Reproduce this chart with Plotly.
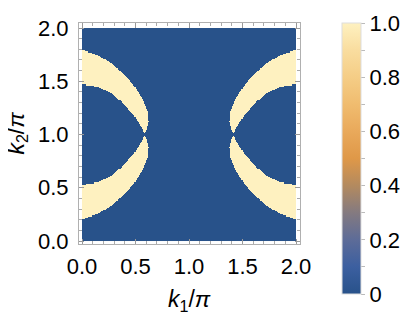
import numpy as np
import plotly.graph_objects as go

# upper-left crescent outline (k1/pi, k2/pi)
outer_k1 = [-0.02, 0.0, 0.15, 0.274, 0.399, 0.493, 0.570, 0.617, 0.626, 0.601, 0.579]
outer_k2 = [1.795, 1.793, 1.746, 1.669, 1.559, 1.449, 1.324, 1.214, 1.120, 1.026, 1.0]
inner_k1 = [0.570, 0.493, 0.399, 0.274, 0.15, 0.0, -0.02]
inner_k2 = [1.042, 1.167, 1.277, 1.387, 1.449, 1.471, 1.471]

ticks = [0.0, 0.5, 1.0, 1.5, 2.0]
tick_text = ["0.0", "0.5", "1.0", "1.5", "2.0"]
cb_vals = [0.0, 0.1, 0.2, 0.3, 0.4, 0.5, 0.6, 0.7, 0.8, 0.9, 1.0]
cb_text = ["0", "", "0.2", "", "0.4", "", "0.6", "", "0.8", "", "1.0"]

colors = [[0.0, "#28528a"], [0.1, "#3c5fa0"], [0.2, "#5d6c98"], [0.3, "#847a80"],
          [0.4, "#b38a5f"], [0.5, "#df9848"], [0.6, "#e9a95b"], [0.7, "#f0bc6f"],
          [0.8, "#f5cd86"], [0.9, "#f9dd9f"], [1.0, "#fef1c0"]]

FONT = "Liberation Sans, Arial"

# the page body has an 8px margin, so the figure is drawn 8px smaller
W, H = 407, 326


def inside(px, py, vx, vy):
    vx = np.asarray(vx)
    vy = np.asarray(vy)
    res = np.zeros(px.shape, dtype=bool)
    n = len(vx)
    j = n - 1
    for i in range(n):
        cond = ((vy[i] > py) != (vy[j] > py)) & \
            (px < (vx[j] - vx[i]) * (py - vy[i]) / (vy[j] - vy[i] + 1e-12) + vx[i])
        res ^= cond
        j = i
    return res


N = 200
d = 2.0 / N
xs = np.arange(N) * d + d / 2
X, Y = np.meshgrid(xs, xs)
poly_x = outer_k1 + inner_k1
poly_y = outer_k2 + inner_k2

# fold the grid onto the upper-left quarter (the pattern is mirror symmetric)
FX = np.where(X > 1, 2 - X, X)
FY = np.where(Y < 1, 2 - Y, Y)
Z = inside(FX, FY, poly_x, poly_y).astype(float)

fig = go.Figure(go.Heatmap(
    x=xs, y=xs, z=Z, zmin=0, zmax=1, colorscale=colors,
    colorbar=dict(
        x=(342 - 79) / 221, xanchor="left",
        y=(244 - 158.5) / 221, yanchor="middle",
        lenmode="pixels", len=271, thickness=19, xpad=0, ypad=0,
        outlinewidth=1, outlinecolor="#dddddd",
        tickmode="array", tickvals=cb_vals, ticktext=cb_text,
        ticks="outside", ticklen=4, tickcolor="#bbbbbb",
        tickfont=dict(size=22, color="black", family=FONT),
    ),
))

axis_common = dict(
    tickmode="array", tickvals=ticks, ticktext=tick_text,
    ticks="inside", ticklen=5, tickcolor="#999999",
    minor=dict(dtick=0.1, ticks="inside", ticklen=3, tickcolor="#aaaaaa"),
    showline=True, linecolor="#b0b0b0", linewidth=1, mirror="allticks",
    showgrid=False, zeroline=False, automargin=False,
    tickfont=dict(size=22, color="black", family=FONT),
)

fig.update_xaxes(range=[-0.028, 2.037], ticklabelstandoff=3, **axis_common)
fig.update_yaxes(range=[-0.028, 2.047], ticklabelstandoff=5, **axis_common)

fig.add_annotation(text="<i>k</i><sub>1</sub>/<i>π</i>", xref="paper", yref="paper",
                   x=0.5, y=-0.255, xanchor="center", yanchor="middle", showarrow=False,
                   font=dict(size=23, color="black", family=FONT))
fig.add_annotation(text="<i>k</i><sub>2</sub>/<i>π</i>", xref="paper", yref="paper",
                   x=-0.28, y=0.5, xanchor="center", yanchor="middle", showarrow=False,
                   textangle=-90, font=dict(size=23, color="black", family=FONT))

fig.update_layout(
    width=W, height=H,
    margin=dict(l=71, r=115, t=15, b=90, autoexpand=False),
    plot_bgcolor="white", paper_bgcolor="white",
)

fig.write_html("out.html")
